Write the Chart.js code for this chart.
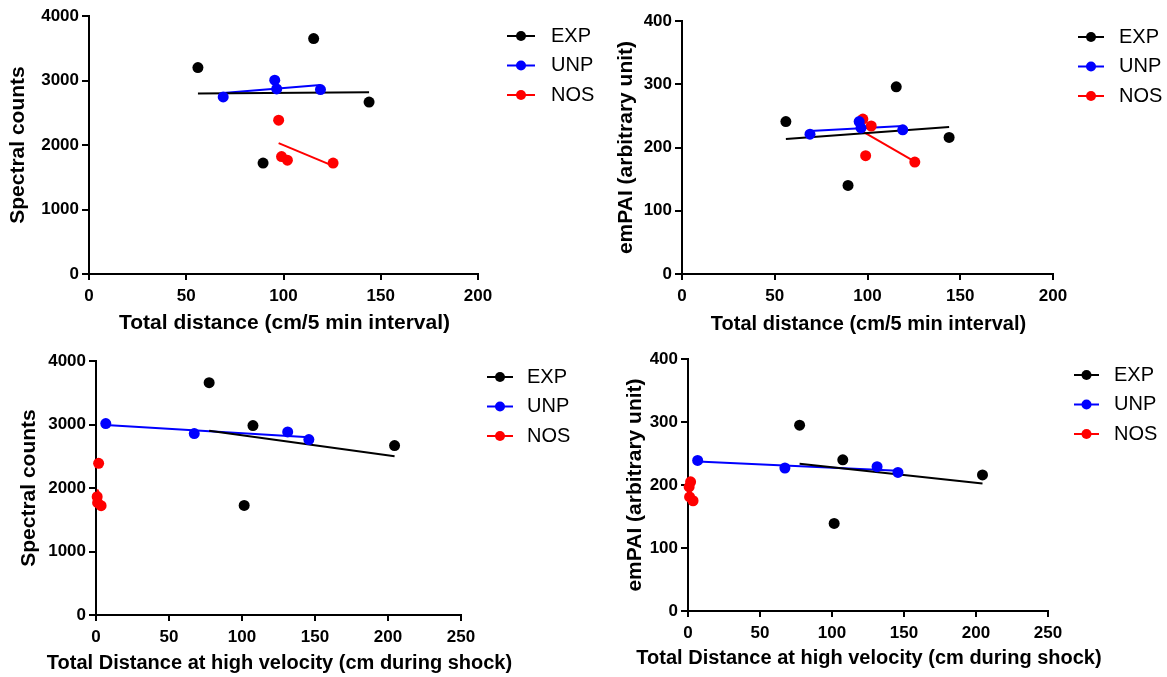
<!DOCTYPE html>
<html>
<head>
<meta charset="utf-8">
<script src="https://cdn.jsdelivr.net/npm/chart.js@4.4.0/dist/chart.umd.min.js"></script>
<style>
  body { margin: 0; background: #fff; width: 1167px; height: 677px; position: relative; overflow: hidden; }
  canvas { position: absolute; }
</style>
</head>
<body>
<canvas id="c1" width="620" height="340" style="left:0;top:0"></canvas>
<canvas id="c2" width="584" height="340" style="left:583px;top:0"></canvas>
<canvas id="c3" width="620" height="337" style="left:0;top:340px"></canvas>
<canvas id="c4" width="584" height="337" style="left:583px;top:340px"></canvas>
<script>
const groups = ['EXP', 'UNP', 'NOS'];
const colors = ['#000000', '#0000ff', '#ff0000'];

// total distance (cm/5 min interval)
const expDist = [56, 115.5, 89.5, 144];
const unpDist = [69, 95.5, 96.5, 119];
const nosDist = [97.5, 99, 102, 125.5];

// total distance at high velocity (cm during shock)
const expHv = [77.5, 107.5, 101.5, 204.5];
const unpHv = [6.7, 67.3, 131.3, 145.8];
const nosHv = [1.8, 0.8, 1.1, 3.5];

// spectral counts
const expCounts1 = [3200, 3650, 1720, 2665];
const unpCounts1 = [2745, 3005, 2870, 2860];
const nosCounts1 = [2385, 1820, 1765, 1720];
const expCounts3 = [3659, 2983, 1725, 2668];
const unpCounts3 = [3014, 2857, 2883, 2763];
const nosCounts3 = [2389, 1863, 1769, 1721];

// emPAI
const expEmpai2 = [241, 296, 140, 216];
const unpEmpai2 = [221, 241, 231, 228];
const nosEmpai2 = [245, 187, 234, 177];
const expEmpai4 = [295, 240, 139, 216];
const unpEmpai4 = [239, 227, 229, 220];
const nosEmpai4 = [205, 197, 181, 175];

const countTicks = [0, 1000, 2000, 3000, 4000];
const empaiTicks = [0, 100, 200, 300, 400];
const distTicks = [0, 50, 100, 150, 200];
const hvTicks = [0, 50, 100, 150, 200, 250];

function fitLine(xs, ys) {
  const n = xs.length;
  const mx = xs.reduce((a, b) => a + b, 0) / n;
  const my = ys.reduce((a, b) => a + b, 0) / n;
  let sxy = 0, sxx = 0;
  for (let i = 0; i < n; i++) {
    sxy += (xs[i] - mx) * (ys[i] - my);
    sxx += (xs[i] - mx) * (xs[i] - mx);
  }
  const b = sxy / sxx;
  const x0 = Math.min(...xs), x1 = Math.max(...xs);
  return [{ x: x0, y: my + b * (x0 - mx) }, { x: x1, y: my + b * (x1 - mx) }];
}

const FAMILY = '"Liberation Sans", Arial, sans-serif';

// legend on the right + x-axis title (wider than the plot area)
const sideLegend = {
  id: 'sideLegend',
  afterDraw(chart, args, opts) {
    const ctx = chart.ctx;
    ctx.save();
    ctx.font = '20px ' + FAMILY;
    ctx.textBaseline = 'middle';
    groups.forEach((g, i) => {
      const y = opts.y0 + i * opts.dy;
      ctx.strokeStyle = colors[i];
      ctx.lineWidth = 2;
      ctx.beginPath(); ctx.moveTo(opts.x0, y); ctx.lineTo(opts.x1, y); ctx.stroke();
      ctx.fillStyle = colors[i];
      ctx.beginPath(); ctx.arc((opts.x0 + opts.x1) / 2, y, 5, 0, Math.PI * 2); ctx.fill();
      ctx.fillStyle = '#000';
      ctx.fillText(g, opts.tx, y);
    });
    const a = chart.chartArea;
    ctx.font = 'bold ' + opts.xTitleSize + 'px ' + FAMILY;
    ctx.textAlign = 'center';
    ctx.fillStyle = '#000';
    ctx.fillText(opts.xTitle, (a.left + a.right) / 2 + 1, opts.xTitleY);
    ctx.restore();
  }
};

const tickFont = { family: FAMILY, size: 17, weight: 'bold' };
const titleFont = { family: FAMILY, size: 21, weight: 'bold' };

function makePanel(p) {
  const canvas = document.getElementById(p.id);
  const W = canvas.width, H = canvas.height;
  const datasets = [];
  groups.forEach((g, i) => {
    datasets.push({
      label: g,
      data: p.xs[i].map((x, k) => ({ x: x, y: p.ys[i][k] })),
      showLine: false,
      pointRadius: 5.5,
      pointBackgroundColor: colors[i],
      pointBorderColor: colors[i],
      pointBorderWidth: 0,
      clip: false,
      order: 1
    });
  });
  groups.forEach((g, i) => {
    datasets.push({
      label: g + ' fit',
      data: fitLine(p.xs[i], p.ys[i]),
      showLine: true,
      pointRadius: 0,
      borderColor: colors[i],
      borderWidth: 2,
      clip: false,
      order: 2
    });
  });

  new Chart(canvas, {
    type: 'scatter',
    data: { datasets: datasets },
    options: {
      responsive: false,
      animation: false,
      layout: { padding: { left: 0, top: p.area.top, right: W - p.area.right, bottom: 0 } },
      plugins: {
        legend: { display: false },
        tooltip: { enabled: false },
        sideLegend: Object.assign({ xTitle: p.xTitle, xTitleY: p.xTitleY, xTitleSize: p.xTitleSize }, p.legend)
      },
      scales: {
        x: {
          type: 'linear',
          min: 0,
          max: p.xTicks[p.xTicks.length - 1],
          afterBuildTicks: s => { s.ticks = p.xTicks.map(v => ({ value: v })); },
          afterFit: s => { s.height = H - p.area.bottom; },
          grid: { drawOnChartArea: false, drawTicks: true, tickLength: 6, color: '#000', lineWidth: 2 },
          border: { color: '#000', width: 2 },
          ticks: { color: '#000', font: tickFont, padding: 6, maxRotation: 0, callback: v => String(v) }
        },
        y: {
          type: 'linear',
          min: 0,
          max: p.yTicks[p.yTicks.length - 1],
          afterBuildTicks: s => { s.ticks = p.yTicks.map(v => ({ value: v })); },
          afterFit: s => { s.width = p.area.left; },
          grid: { drawOnChartArea: false, drawTicks: true, tickLength: 7, color: '#000', lineWidth: 2 },
          border: { color: '#000', width: 2 },
          ticks: { color: '#000', font: tickFont, padding: 3, callback: v => String(v) },
          title: { display: true, text: p.yTitle, color: '#000', font: titleFont, padding: { top: p.yPad, bottom: 0 } }
        }
      }
    },
    plugins: [sideLegend]
  });
}

makePanel({
  id: 'c1',
  xs: [expDist, unpDist, nosDist],
  ys: [expCounts1, unpCounts1, nosCounts1],
  xTicks: distTicks, yTicks: countTicks,
  xTitle: 'Total distance (cm/5 min interval)', yTitle: 'Spectral counts',
  area: { left: 89, top: 16, right: 478, bottom: 274 },
  xTitleY: 323, xTitleSize: 21, yPad: 6,
  legend: { x0: 507, x1: 535, tx: 551, y0: 36, dy: 29.5 }
});

makePanel({
  id: 'c2',
  xs: [expDist, unpDist, nosDist],
  ys: [expEmpai2, unpEmpai2, nosEmpai2],
  xTicks: distTicks, yTicks: empaiTicks,
  xTitle: 'Total distance (cm/5 min interval)', yTitle: 'emPAI (arbitrary unit)',
  area: { left: 99, top: 21, right: 470, bottom: 274 },
  xTitleY: 324, xTitleSize: 20, yPad: 31,
  legend: { x0: 495, x1: 521, tx: 536, y0: 37, dy: 29.5 }
});

makePanel({
  id: 'c3',
  xs: [expHv, unpHv, nosHv],
  ys: [expCounts3, unpCounts3, nosCounts3],
  xTicks: hvTicks, yTicks: countTicks,
  xTitle: 'Total Distance at high velocity (cm during shock)', yTitle: 'Spectral counts',
  area: { left: 96, top: 21, right: 461, bottom: 275 },
  xTitleY: 323, xTitleSize: 20, yPad: 17,
  legend: { x0: 487, x1: 513, tx: 527, y0: 37, dy: 29.5 }
});

makePanel({
  id: 'c4',
  xs: [expHv, unpHv, nosHv],
  ys: [expEmpai4, unpEmpai4, nosEmpai4],
  xTicks: hvTicks, yTicks: empaiTicks,
  xTitle: 'Total Distance at high velocity (cm during shock)', yTitle: 'emPAI (arbitrary unit)',
  area: { left: 105, top: 19, right: 465, bottom: 271 },
  xTitleY: 318, xTitleSize: 20, yPad: 40,
  legend: { x0: 491, x1: 516, tx: 531, y0: 35, dy: 29.5 }
});
</script>
</body>
</html>
